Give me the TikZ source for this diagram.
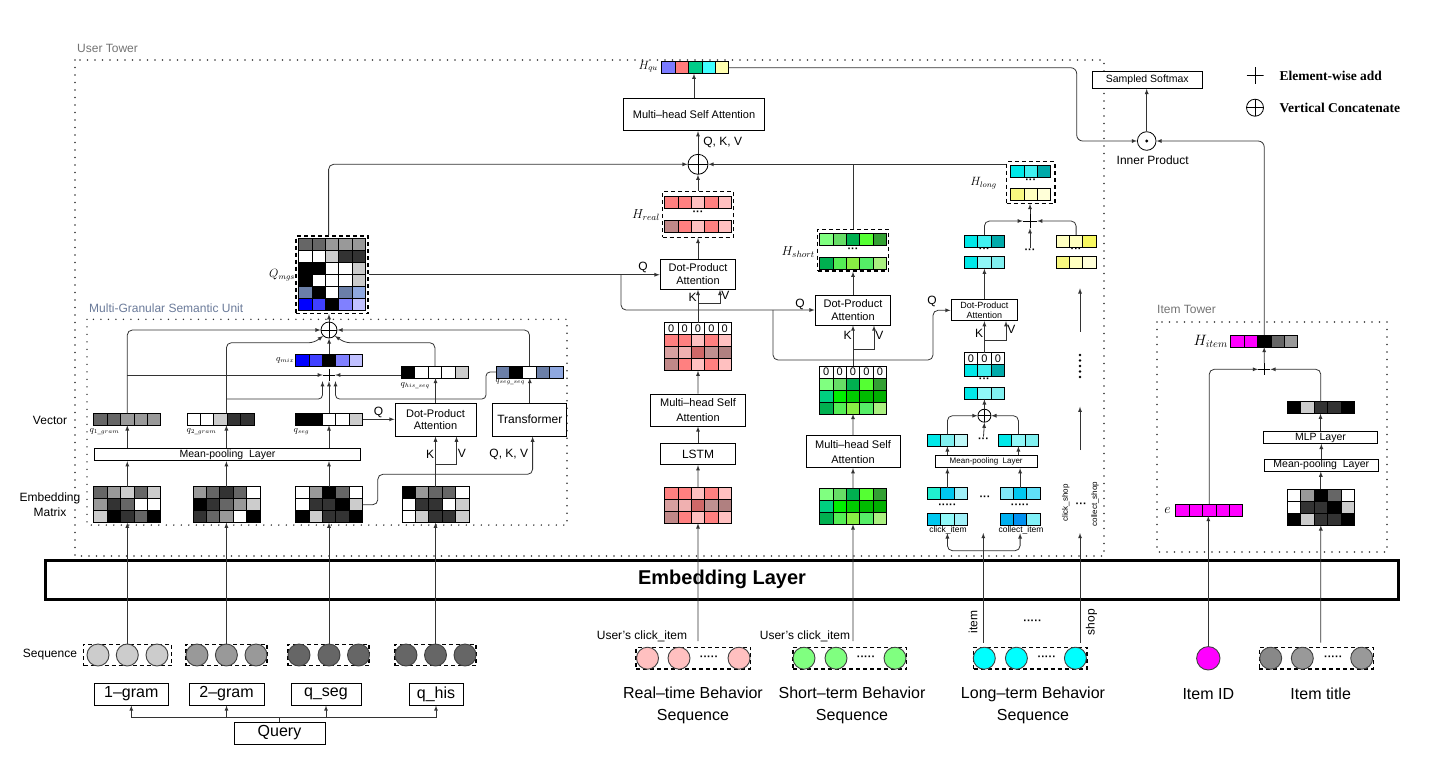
\documentclass[tikz,border=0pt]{standalone}
\usepackage{fix-cm}
\usepackage{amsmath}
\usepackage{fontspec}
\setmainfont{Liberation Sans}
\newfontfamily\legfont{Liberation Serif}
\usepackage{tikz}
\usetikzlibrary{positioning}
\definecolor{gA}{HTML}{CCCCCC}\definecolor{gB}{HTML}{999999}\definecolor{gC}{HTML}{666666}
\definecolor{gD}{HTML}{333333}\definecolor{gE}{HTML}{888888}
\definecolor{sl1}{HTML}{6B7FA8}\definecolor{sl2}{HTML}{8FA8E0}
\definecolor{bl1}{HTML}{0000FF}\definecolor{bl2}{HTML}{4040FF}\definecolor{bl3}{HTML}{8080FF}\definecolor{bl4}{HTML}{C0C0FF}
\definecolor{pk1}{HTML}{FF8080}\definecolor{pk2}{HTML}{FFC0C0}\definecolor{pk3}{HTML}{C08888}\definecolor{pk4}{HTML}{D8A0A0}
\definecolor{pk5}{HTML}{F0B0B0}\definecolor{pk6}{HTML}{D06868}\definecolor{pk7}{HTML}{C09090}\definecolor{pk8}{HTML}{B08080}
\definecolor{gr1}{HTML}{80FF80}\definecolor{gr2}{HTML}{66DD66}\definecolor{gr3}{HTML}{00B050}\definecolor{gr4}{HTML}{55FF33}
\definecolor{gr5}{HTML}{33A033}\definecolor{gr6}{HTML}{00D080}\definecolor{gr7}{HTML}{00EE00}\definecolor{gr8}{HTML}{00CC00}
\definecolor{gr9}{HTML}{00BB00}\definecolor{gr10}{HTML}{00B000}\definecolor{gr11}{HTML}{55EE55}\definecolor{gr12}{HTML}{88EE44}
\definecolor{gr13}{HTML}{55EE66}\definecolor{gr14}{HTML}{AAF080}
\definecolor{cy1}{HTML}{00E8E8}\definecolor{cy2}{HTML}{40F0F0}\definecolor{cy3}{HTML}{00AAAA}\definecolor{cy4}{HTML}{90F8F8}
\definecolor{cy5}{HTML}{80F0F0}\definecolor{cy6}{HTML}{C0F8F8}\definecolor{cy7}{HTML}{20F0D0}\definecolor{cy8}{HTML}{00C8F0}
\definecolor{cy9}{HTML}{A0F0F8}\definecolor{cy10}{HTML}{00B0F0}\definecolor{cy11}{HTML}{0090F0}\definecolor{cy12}{HTML}{80E8F8}
\definecolor{cy13}{HTML}{60E0F8}\definecolor{cy14}{HTML}{80F0F8}\definecolor{cyn}{HTML}{00FFFF}
\definecolor{ye1}{HTML}{FFFFC0}\definecolor{ye2}{HTML}{F8F860}\definecolor{ye3}{HTML}{F8F880}\definecolor{ye4}{HTML}{FFFFD8}
\definecolor{qu1}{HTML}{7B7BFF}\definecolor{qu2}{HTML}{FF7B7B}\definecolor{qu3}{HTML}{00CC88}\definecolor{qu4}{HTML}{40FFFF}
\definecolor{qu5}{HTML}{FFFFB0}\definecolor{mgn}{HTML}{FF00FF}\definecolor{mgsc}{HTML}{6A7A99}
\def\cellw{13.4}
\def\cellh{12}
\tikzset{
	blkbox/.style={draw, line width=1pt, fill=white, align=center, inner sep=1pt, font=\fontsize{11}{12.5}\selectfont},
	vcell/.style={draw=black, line width=0.8pt},
	hold/.style={inner sep=0pt, outer sep=0pt, anchor=north west},
	zcell/.style={draw=black, line width=0.8pt, fill=white, inner sep=0pt, minimum width=\cellw, minimum height=\cellh, font=\fontsize{11}{11}\selectfont},
	dashgrp/.style={draw, dash pattern=on 4pt off 3pt, line width=1.2pt, inner sep=0pt},
	towerline/.style={draw=black!80, dash pattern=on 0pt off 7.5pt, line cap=round, line width=1.6pt},
	seqdot/.style={circle, draw=black!75, line width=0.9pt, minimum size=22pt, inner sep=0pt},
	vcat/.style={circle, draw, fill=white, line width=0.8pt, minimum size=16pt, inner sep=0pt, path picture={\draw[line width=0.8pt](path picture bounding box.north)--(path picture bounding box.south)(path picture bounding box.west)--(path picture bounding box.east);}},
	eadd/.style={fill=white, inner sep=0pt, minimum size=12pt, path picture={\draw[line width=0.9pt](path picture bounding box.north)--(path picture bounding box.south)(path picture bounding box.west)--(path picture bounding box.east);}},
	lab/.style={font=\fontsize{12}{14}\selectfont, inner sep=1pt},
	qlab/.style={font=\fontsize{9}{10}\selectfont, inner sep=0.5pt},
	dts/.style={font=\fontsize{11}{11}\selectfont\bfseries, inner sep=1pt},
	arr/.style={line width=0.8pt, draw=black!80, -latex},
	ln/.style={line width=0.8pt, draw=black!80},
}
\newcommand{\crow}[3]{\foreach \fc[count=\i from 0]in{#3}{\filldraw[vcell, fill=\fc](#1+\i*\cellw, #2)rectangle++(\cellw, \cellh);}}
\newcommand{\blk}[5]{\node[hold, minimum width=#4*\cellw, minimum height=#5*\cellh](#1)at(#2, #3){};}
\newcommand{\vrow}[5]{\crow{#2}{#3}{#5}\blk{#1}{#2}{#3}{#4}{1}}
\newcommand{\zrow}[4]{\foreach \i in{1,...,#4}{\node[zcell](#1\i)at(#2+\i*\cellw-0.5*\cellw, #3+0.5*\cellh){0};}}

\begin{document}
\begin{tikzpicture}[x=1pt, y=-1pt]
	\useasboundingbox(0,0)rectangle(1451,764);
	\draw[towerline](75,60)rectangle(1104,556);
	\draw[towerline](87,319.3)rectangle(567,525);
	\draw[towerline](1157,322)rectangle(1387,552);
	\node[lab, text=black!55, anchor=west](ut)at(76,48){User Tower};
	\node[lab, text=mgsc, anchor=west](mu)at(88,308){Multi-Granular Semantic Unit};
	\node[lab, text=black!55, anchor=west](itw)at(1156,309.5){Item Tower};
	\node[draw, line width=3pt, minimum width=1352.6, minimum height=39, inner sep=0pt, font=\fontsize{20}{24}\selectfont\bfseries](emb)at(722,579.5){Embedding Layer};
	\node[lab](seq)at(50,655){Sequence};
	\node[lab](vlab)at(50,420){Vector};
	\node[lab, align=center, font=\fontsize{12}{15}\selectfont](mlab)at(50,504.5){Embedding\\Matrix};
	\node[dashgrp, minimum width=88, minimum height=21.7](sg1)at(127.5,655){};
	\node[seqdot, fill=gA](c11)at(98,655){};
	\node[seqdot, fill=gA](c12)at(127.3,655){};
	\node[seqdot, fill=gA](c13)at(157,655){};
	\node[dashgrp, minimum width=81, minimum height=21.7](sg2)at(226.5,655){};
	\node[seqdot, fill=gB](c21)at(197,655){};
	\node[seqdot, fill=gB](c22)at(226.4,655){};
	\node[seqdot, fill=gB](c23)at(256,655){};
	\node[dashgrp, minimum width=81, minimum height=21.7](sg3)at(328.5,655){};
	\node[seqdot, fill=gC](c31)at(299,655){};
	\node[seqdot, fill=gC](c32)at(329,655){};
	\node[seqdot, fill=gC](c33)at(358.5,655){};
	\node[dashgrp, minimum width=81, minimum height=21.7](sg4)at(435.5,655){};
	\node[seqdot, fill=gC](c41)at(406,655){};
	\node[seqdot, fill=gC](c42)at(435.5,655){};
	\node[seqdot, fill=gC](c43)at(465,655){};
	\node[blkbox, font=\fontsize{16}{18}\selectfont, minimum width=73.4, minimum height=22](g1)at(131.3,694){1–gram};
	\node[blkbox, font=\fontsize{16}{18}\selectfont, minimum width=75, minimum height=22](g2)at(226.5,694){2–gram};
	\node[blkbox, font=\fontsize{16}{18}\selectfont, minimum width=70, minimum height=22](gs)at(326,694){q\_seg};
	\node[blkbox, font=\fontsize{16}{18}\selectfont, minimum width=54, minimum height=22](gh)at(436,694){q\_his};
	\node[blkbox, font=\fontsize{16}{18}\selectfont, minimum width=91, minimum height=22](qry)at(279.5,733){Query};
	\coordinate(bus)at(0,717.7);
	\draw[ln](qry.north)--(qry.north|-bus);
	\draw[ln](g1.south|-bus)--(gh.south|-bus);
	\foreach \g in{g1,g2,gs,gh}\draw[arr](\g.south|-bus)--(\g.south);
	\crow{93.8}{486.7}{gC,gB,gA,gC,gA}\crow{93.8}{498.7}{gB,gD,gC,white,white}\crow{93.8}{510.7}{gA,black,gD,gC,black}
	\blk{m1}{93.8}{486.7}{5}{3}
	\crow{192.9}{486.7}{gB,gC,gD,gC,white}\crow{192.9}{498.7}{black,gD,gC,gB,gA}\crow{192.9}{510.7}{gD,gC,gB,white,black}
	\blk{m2}{192.9}{486.7}{5}{3}
	\crow{295.5}{486.7}{white,gB,black,gC,white}\crow{295.5}{498.7}{white,gD,gD,black,gA}\crow{295.5}{510.7}{black,gA,gD,gD,black}
	\blk{m3}{295.5}{486.7}{5}{3}
	\crow{402}{486.7}{black,gB,gC,gC,white}\crow{402}{498.7}{white,gD,gD,white,gA}\crow{402}{510.7}{white,gA,gD,gD,gA}
	\blk{m4}{402}{486.7}{5}{3}
	\draw[arr](c12.north)--(c12.north|-m1.south);
	\draw[arr](c22.north)--(c22.north|-m2.south);
	\draw[arr](c32.north)--(c32.north|-m3.south);
	\draw[arr](c42.north)--(c42.north|-m4.south);
	\node[blkbox, font=\fontsize{10.5}{11}\selectfont, minimum width=265.4, minimum height=12.4](mpM)at(227.5,454.5){Mean-pooling\ \ Layer};
	\node[blkbox, minimum width=81, minimum height=32.7](dpaM)at(435.5,419.7){Dot-Product\\Attention};
	\node[blkbox, font=\fontsize{12}{14}\selectfont, minimum width=74.3, minimum height=32.7](tfm)at(529.8,419.7){Transformer};
	\vrow{q1}{93.8}{413.3}{5}{gC,gC,gB,gB,gB}
	\vrow{q2}{187}{413.3}{5}{white,white,gA,gD,gD}
	\vrow{qs}{295.5}{413.3}{5}{black,black,white,white,gA}
	\vrow{qhs}{401.4}{366}{5}{black,white,white,white,gA}
	\vrow{qss}{496}{366}{5}{sl1,black,white,sl1,sl2}
	\vrow{qmix}{295.6}{354}{5}{bl1,bl2,black,bl3,bl4}
	\node[qlab, anchor=west](lq1)at(89,432){$q_{1\_gram}$};
	\node[qlab, anchor=west](lq2)at(186,432){$q_{2\_gram}$};
	\node[qlab, anchor=west](lq3)at(293,432){$q_{seg}$};
	\node[qlab, anchor=west](lq4)at(400,386){$q_{his\_seq}$};
	\node[qlab, anchor=west, font=\fontsize{8}{9}\selectfont](lq5)at(495,382){$q_{seg\_seq}$};
	\node[qlab, anchor=east](lq6)at(295,360){$q_{mix}$};
	\node[eadd](pM)at(329,375){};
	\node[vcat](cM)at(329,330){};
	\coordinate(hq)at(0,342.7);
	\coordinate(hb)at(0,399);
	\draw[arr](m1.north)--(m1.north|-mpM.south);
	\draw[arr](m2.north)--(m2.north|-mpM.south);
	\draw[arr](m3.north)--(m3.north|-mpM.south);
	\draw[arr](m1.north|-mpM.north)--(m1.north|-q1.south);
	\draw[arr](m2.north|-mpM.north)--(m2.north|-q2.south);
	\draw[arr](m3.north|-mpM.north)--(m3.north|-qs.south);
	\draw[arr](qs.east)--node[lab, above](lQ1){Q}(qs.east-|dpaM.west);
	\draw[arr](m4.north)--(m4.north|-dpaM.south)node[lab, pos=0.65, left](lK1){K};
	\coordinate(kv1)at(435.5,464);
	\draw[arr](kv1)-|([xshift=21pt]dpaM.south)node[lab, pos=0.7, right](lV1){V};
	\draw[arr, rounded corners=5](m3.east)-|(377.8,474.3)-|([xshift=2.8pt]tfm.south);
	\node[lab](lqkv)at(508.8,454){Q, K, V};
	\draw[arr](dpaM.north)--(dpaM.north|-qhs.south);
	\draw[arr](tfm.north)--(tfm.north|-qss.south);
	\draw[arr, rounded corners=5](m1.north|-q1.north)|-(cM.west);
	\draw[arr](m1.north|-pM)--(pM.west);
	\draw[arr, rounded corners=5](m2.north|-q2.north)--(m2.north|-hq)--(314,342.7)--(cM.south west);
	\draw[arr, rounded corners=4](m2.north|-hb)-|([xshift=-6.5pt]pM.south);
	\draw[arr](m3.north|-qs.north)--(m3.north|-pM.south);
	\draw[arr, rounded corners=4](qss.west)-|(486,399)-|([xshift=6.5pt]pM.south);
	\draw[arr](qhs.west|-pM)--(pM.east);
	\draw[arr](qmix.north)--(qmix.north|-cM.south);
	\draw[arr, rounded corners=5](qhs.north)--(qhs.north|-hq)--(345,342.7)--(cM.south east);
	\draw[arr, rounded corners=5](qss.north)|-(cM.east);
	\node[dashgrp, minimum width=72, minimum height=77.5](Qmgs)at(332,274.75){};
	\crow{298.5}{238.5}{gC,gC,gB,gB,gB}
	\crow{298.5}{250.5}{white,white,gA,gD,gD}
	\crow{298.5}{262.5}{black,black,white,white,gA}
	\crow{298.5}{274.5}{black,white,white,white,gA}
	\crow{298.5}{286.5}{sl1,black,white,sl1,sl2}
	\crow{298.5}{298.5}{bl1,bl2,black,bl3,bl4}
	\node[font=\fontsize{12}{14}\selectfont, anchor=east, inner sep=1pt](lQm)at(296,275){$Q_{mgs}$};
	\draw[arr](cM.north)--(cM.north|-Qmgs.south);
	\node[vcat, minimum size=20pt](cT)at(698,164.3){};
	\node[blkbox, minimum width=141, minimum height=31.7](mhT)at(694,114.8){Multi–head Self Attention};
	\vrow{Hqu}{661.7}{61.7}{5}{qu1,qu2,qu3,qu4,qu5}
	\node[font=\fontsize{12}{14}\selectfont, anchor=east, inner sep=1pt](lHq)at(659,66.7){$H_{qu}$};
	\draw[arr](cT.north)--(cT.north|-mhT.south)node[lab, midway, right=4pt](lqkv2){Q, K, V};
	\draw[arr](mhT.north)--(mhT.north|-Hqu.south);
	\draw[arr, rounded corners=5]([xshift=-3.4pt]Qmgs.north)|-(cT.west);
	\node[blkbox, minimum width=75.7, minimum height=30](dpaR)at(698,274.3){Dot-Product\\Attention};
	\draw[arr](Qmgs.east)--(Qmgs.east-|dpaR.west);
	\node[lab](lQ2)at(643,267){Q};
	\node[blkbox, minimum width=75.7, minimum height=30](dpaS)at(853,310){Dot-Product\\Attention};
	\node[blkbox, font=\fontsize{9}{10.5}\selectfont, minimum width=66.7, minimum height=20.7](dpaL)at(984.4,310.3){Dot-Product\\Attention};
	\coordinate(qb1)at(621,274.75);
	\draw[arr, rounded corners=5](qb1)|-(dpaS.west);
	\node[lab](lQ3)at(800,304){Q};
	\coordinate(qb2)at(773,310);
	\draw[arr, rounded corners=5](qb2)--(773,360)--(933,360)--(933,310.3)--(dpaL.west);
	\node[lab](lQ4)at(932,301){Q};
	\node[dashgrp, minimum width=71, minimum height=45.6](Hr)at(698,214.5){};
	\crow{664.5}{196.7}{pk1,pk1,pk2,pk1,pk2}
	\crow{664.5}{220.7}{pk3,pk1,pk2,pk1,pk2}
	\node[dts](dR)at(698,213.5){···};
	\node[font=\fontsize{13}{15}\selectfont, anchor=east, inner sep=1pt](lHr)at(661,215){$H_{real}$};
	\draw[arr](dpaR.north)--(Hr.south);
	\draw[arr](Hr.north)--(cT.south);
	\zrow{zrr}{664.5}{322.7}{5}
	\crow{664.5}{334.7}{pk1,pk1,pk2,pk1,pk2}\crow{664.5}{346.7}{pk4,pk5,pk6,pk7,pk8}\crow{664.5}{358.7}{pk3,pk1,pk2,pk1,pk2}
	\blk{zR}{664.5}{322.7}{5}{4}
	\draw[arr](zR.north)--(zR.north|-dpaR.south)node[lab, pos=0.77, left](lK2){K};
	\coordinate(kv2)at(698,303.3);
	\draw[arr](kv2)-|([xshift=22pt]dpaR.south)node[lab, pos=0.78, right](lV2){V};
	\node[blkbox, font=\fontsize{11}{15}\selectfont, minimum width=94.3, minimum height=32](mhR)at(698,410){Multi–head Self\\Attention};
	\node[blkbox, font=\fontsize{12}{14}\selectfont, minimum width=75, minimum height=20.7](lstm)at(698,454.3){LSTM};
	\draw[arr](mhR.north)--(zR.south);
	\draw[arr](lstm.north)--(mhR.south);
	\crow{664.5}{487.3}{pk1,pk1,pk2,pk1,pk2}\crow{664.5}{499.3}{pk4,pk5,pk6,pk7,pk8}\crow{664.5}{511.3}{pk3,pk1,pk2,pk1,pk2}
	\blk{rE}{664.5}{487.3}{5}{3}
	\draw[arr](rE.north)--(lstm.south);
	\coordinate(rin)at(698,641);
	\draw[arr](rin)--(rE.south);
	\node[dashgrp, minimum width=71, minimum height=41.7](Hs)at(853,250.2){};
	\crow{819.5}{233.3}{gr1,gr2,gr3,gr4,gr5}
	\crow{819.5}{257.3}{gr3,gr11,gr12,gr13,gr14}
	\node[dts](dS)at(853,250){···};
	\node[font=\fontsize{13}{15}\selectfont, anchor=east, inner sep=1pt](lHs)at(816,252.3){$H_{short}$};
	\draw[arr](dpaS.north)--(Hs.south);
	\draw[ln](Hs.north)--(Hs.north|-cT);
	\zrow{zss}{819.5}{366}{5}
	\crow{819.5}{378}{gr1,gr2,gr3,gr4,gr5}\crow{819.5}{390}{gr6,gr7,gr8,gr9,gr10}\crow{819.5}{402}{gr3,gr11,gr12,gr13,gr14}
	\blk{zS}{819.5}{366}{5}{4}
	\draw[arr](zS.north)--(zS.north|-dpaS.south)node[lab, pos=0.76, left](lK3){K};
	\coordinate(kv3)at(853,349.3);
	\draw[arr](kv3)-|([xshift=21pt]dpaS.south)node[lab, pos=0.8, right](lV3){V};
	\node[blkbox, font=\fontsize{11}{15}\selectfont, minimum width=94, minimum height=31.7](mhS)at(853,451.8){Multi–head Self\\Attention};
	\draw[arr](mhS.north)--(zS.south);
	\crow{819.5}{488.3}{gr1,gr2,gr3,gr4,gr5}\crow{819.5}{500.3}{gr6,gr7,gr8,gr9,gr10}\crow{819.5}{512.3}{gr3,gr11,gr12,gr13,gr14}
	\blk{sE}{819.5}{488.3}{5}{3}
	\draw[arr](sE.north)--(mhS.south);
	\coordinate(sin)at(853,641);
	\draw[arr](sin)--(sE.south);
	\node[dashgrp, minimum width=48.3, minimum height=41.6](Hl)at(1030.8,182.5){};
	\crow{1010.6}{165.3}{cy1,cy2,cy3}
	\crow{1010.6}{188.3}{ye3,ye1,ye4}
	\node[dts](dL)at(1030.8,181.5){···};
	\node[font=\fontsize{12}{14}\selectfont, anchor=east, inner sep=1pt](lHl)at(998,183.3){$H_{long}$};
	\draw[arr](Hl.west|-cT)--(cT.east);
	\node[eadd, minimum size=14pt](pL)at(1030,221){};
	\draw[arr](pL.north)--(pL.north|-Hl.south);
	\vrow{ls1}{964.3}{235}{3}{cy1,cy2,cy3}
	\vrow{ls2}{964.3}{256.7}{3}{cy1,cy4,cy5}
	\node[dts](dls)at(984.4,250.5){···};
	\vrow{rs1}{1056}{235}{3}{ye1,ye1,ye2}
	\vrow{rs2}{1056}{256.7}{3}{ye3,ye1,ye4}
	\node[dts](drs)at(1076.1,250.5){···};
	\node[dts](mdL)at(1030,251){···};
	\draw[arr, rounded corners=5](ls1.north)|-(pL.west);
	\draw[arr, rounded corners=5](rs1.north)|-(pL.east);
	\draw[arr](mdL.north)--(pL.south);
	\draw[arr](dpaL.north)--(ls2.south);
	\zrow{zll}{964.3}{352.7}{3}
	\crow{964.3}{364.7}{cy1,cy2,cy3}
	\blk{zL}{964.3}{352.7}{3}{2}
	\node[dts](dz)at(984.4,380){···};
	\vrow{lv}{964.3}{387.3}{3}{cy1,cy4,cy5}
	\draw[arr](zL.north)--(zL.north|-dpaL.south)node[lab, pos=0.6, left](lK4){K};
	\coordinate(kv4)at(984.4,340.7);
	\draw[arr](kv4)-|([xshift=21.6pt]dpaL.south)node[lab, pos=0.8, right](lV4){V};
	\node[vcat, minimum size=13pt](cL)at(984.4,415.7){};
	\draw[arr](cL.north)--(lv.south);
	\vrow{pl}{927.3}{434.3}{3}{cy1,cy5,cy6}
	\vrow{pr}{998.3}{434.3}{3}{cy1,cy4,cy5}
	\node[dts](mdC)at(983.5,440){···};
	\draw[arr, rounded corners=5](pl.north)|-(cL.west);
	\draw[arr, rounded corners=5](pr.north)|-(cL.east);
	\draw[arr](mdC.north)--(cL.south);
	\node[blkbox, font=\fontsize{8}{9}\selectfont, minimum width=102.3, minimum height=11.7](mpL)at(986.2,461.8){Mean-pooling\ \ Layer};
	\draw[arr](pl.south|-mpL.north)--(pl.south);
	\draw[arr](pr.south|-mpL.north)--(pr.south);
	\crow{927.3}{487.7}{cy7,cy8,cy9}\crow{927.3}{513.3}{cy8,cy4,cy9}
	\node[hold, minimum width=40.2, minimum height=37.6](ciG)at(927.3,487.7){};
	\node[dts](dci)at(947.4,506){·····};
	\node[font=\fontsize{8.5}{9}\selectfont, inner sep=0.5pt](lci)at(948,530){click\_item};
	\crow{1000}{487.7}{cy12,cy8,cy13}\crow{1000}{513.3}{cy10,cy11,cy14}
	\node[hold, minimum width=40.2, minimum height=37.6](coG)at(1000,487.7){};
	\node[dts](dco)at(1020.1,506){·····};
	\node[font=\fontsize{8.5}{9}\selectfont, inner sep=0.5pt](lco)at(1021,530.5){collect\_item};
	\node[dts](dg)at(985,498){···};
	\draw[arr](ciG.north)--(ciG.north|-mpL.south);
	\draw[arr](coG.north)--(coG.north|-mpL.south);
	\coordinate(lin)at(983.3,642.7);
	\coordinate(lj)at(983.3,550.7);
	\coordinate(lend)at(983.3,533);
	\draw[arr](lin)--(lend);
	\draw[arr, rounded corners=5](lj)-|([yshift=-8pt]ciG.south);
	\draw[arr, rounded corners=5](lj)-|([yshift=-8pt]coG.south);
	\coordinate(shin)at(1080,642.7);
	\coordinate(shend)at(1080,533);
	\draw[arr](shin)--(shend);
	\node[font=\fontsize{8}{9}\selectfont, rotate=90, inner sep=0.5pt](csh)at(1065.7,503){click\_shop};
	\node[font=\fontsize{8}{9}\selectfont, rotate=90, inner sep=0.5pt](colsh)at(1095,504){collect\_shop};
	\node[dts](dsh)at(1081.2,505){···};
	\coordinate(sa1)at(1080,450);\coordinate(sa2)at(1080,406.7);
	\draw[arr](sa1)--(sa2);
	\foreach \k in{0,...,4}\fill(1080,355+\k*5.5)circle(1.3);
	\coordinate(sa3)at(1080,331.7);\coordinate(sa4)at(1080,288.3);
	\draw[arr](sa3)--(sa4);
	\node[circle, draw, fill=white, line width=0.8pt, minimum size=18.6pt, inner sep=0pt](ip)at(1146.7,141){};
	\fill(ip.center)circle(1.6pt);
	\coordinate(tc)at(1076.7,0);
	\draw[arr, rounded corners=6](Hqu.east)--(tc|-Hqu.east)|-(ip.west);
	\node[blkbox, font=\fontsize{10.5}{12}\selectfont, minimum width=110, minimum height=17.3](smx)at(1147.3,79.7){Sampled Softmax};
	\draw[arr](ip.north)--(ip.north|-smx.south);
	\node[lab, below=4pt of ip, xshift=6pt](ipl){Inner Product};
	\node[eadd, minimum size=17pt](lgA)at(1255,75.7){};
	\node[font=\fontsize{13.5}{15}\legfont\bfseries, anchor=west](lgAt)at(1276,75.7){Element-wise add};
	\node[vcat, minimum size=17pt](lgB)at(1255,107.7){};
	\node[font=\fontsize{13.5}{15}\legfont\bfseries, anchor=west](lgBt)at(1276,107.7){Vertical Concatenate};
	\vrow{Hit}{1230.7}{335}{5}{mgn,mgn,black,gC,gB}
	\node[font=\fontsize{15}{17}\selectfont, anchor=east, inner sep=1pt](lHi)at(1229,341.7){$H_{item}$};
	\node[eadd](pI)at(1264.2,369.3){};
	\draw[arr](pI.north)--(Hit.south);
	\draw[arr, rounded corners=6](Hit.north)|-(ip.east);
	\vrow{eI}{1175.7}{504}{5}{mgn,mgn,mgn,mgn,mgn}
	\node[font=\fontsize{14}{16}\selectfont, anchor=east, inner sep=1pt](le)at(1172,510){$e$};
	\draw[arr, rounded corners=5](eI.north)|-(pI.west);
	\vrow{pvI}{1287.3}{401.7}{5}{black,gA,gD,gD,black}
	\draw[arr, rounded corners=5](pvI.north)|-(pI.east);
	\node[blkbox, font=\fontsize{10.5}{12}\selectfont, minimum width=114.4, minimum height=11.6](mlp)at(1320.5,437.5){MLP Layer};
	\node[blkbox, font=\fontsize{10.5}{12}\selectfont, minimum width=114, minimum height=11.7](mpI)at(1321.3,465.2){Mean-pooling\ \ Layer};
	\crow{1287.3}{489.3}{white,gB,black,gC,white}\crow{1287.3}{501.3}{white,gD,gD,black,gA}\crow{1287.3}{513.3}{black,gA,gD,gD,black}
	\blk{iM}{1287.3}{489.3}{5}{3}
	\draw[arr](mlp.north)--(mlp.north|-pvI.south);
	\draw[arr](mpI.north)--(mpI.north|-mlp.south);
	\draw[arr](iM.north)--(iM.north|-mpI.south);
	\node[dashgrp, minimum width=114.4, minimum height=21.7](rg)at(693.2,658.2){};
	\node[seqdot, fill=pk2](r1)at(647.5,658.2){};
	\node[seqdot, fill=pk2](r2)at(679,658.2){};
	\node[seqdot, fill=pk2](r3)at(739,658.2){};
	\node[dts](drg)at(709,658){·····};
	\node[dashgrp, minimum width=113.8, minimum height=21.7](sgg)at(849.9,658.2){};
	\node[seqdot, fill=gr1](s1)at(804,658.2){};
	\node[seqdot, fill=gr1](s2)at(836,658.2){};
	\node[seqdot, fill=gr1](s3)at(895,658.2){};
	\node[dts](dsg)at(866,658){·····};
	\node[dashgrp, minimum width=113.4, minimum height=21.7](lg)at(1030.3,658.2){};
	\node[seqdot, fill=cyn](l1)at(984.3,658.2){};
	\node[seqdot, fill=cyn](l2)at(1016.4,658.2){};
	\node[seqdot, fill=cyn](l3)at(1075.4,658.2){};
	\node[dts](dlg)at(1046.8,658){·····};
	\node[lab](uc1)at(642,636){User's click\_item};
	\node[lab](uc2)at(805,636){User's click\_item};
	\node[lab, rotate=90](litem)at(973,622){item};
	\node[lab, rotate=90](lshop)at(1091.4,622){shop};
	\node[dts](dmid)at(1032.5,622){·····};
	\node[align=center, font=\fontsize{16}{22}\selectfont](lrt)at(693,705){Real–time Behavior\\Sequence};
	\node[align=center, font=\fontsize{16}{22}\selectfont](lst)at(852,705){Short–term Behavior\\Sequence};
	\node[align=center, font=\fontsize{16}{22}\selectfont](llt)at(1033,705){Long–term Behavior\\Sequence};
	\node[seqdot, fill=mgn, minimum size=23.4pt](iid)at(1208.3,658.3){};
	\draw[arr](iid.north)--(iid.north|-eI.south);
	\node[dashgrp, minimum width=114, minimum height=21.7](itg)at(1316.3,658.2){};
	\node[seqdot, fill=gE](t1)at(1270.7,658.2){};
	\node[seqdot, fill=gB](t2)at(1302.3,658.2){};
	\node[seqdot, fill=gB](t3)at(1361.7,658.2){};
	\node[dts](dtg)at(1333.3,658){·····};
	\coordinate(tin)at(1320.8,642.7);
	\draw[arr](tin)--(iM.south);
	\node[font=\fontsize{16}{18}\selectfont](liid)at(1208.3,694){Item ID};
	\node[font=\fontsize{16}{18}\selectfont](lit)at(1320.7,694){Item title};
\end{tikzpicture}
\end{document}
